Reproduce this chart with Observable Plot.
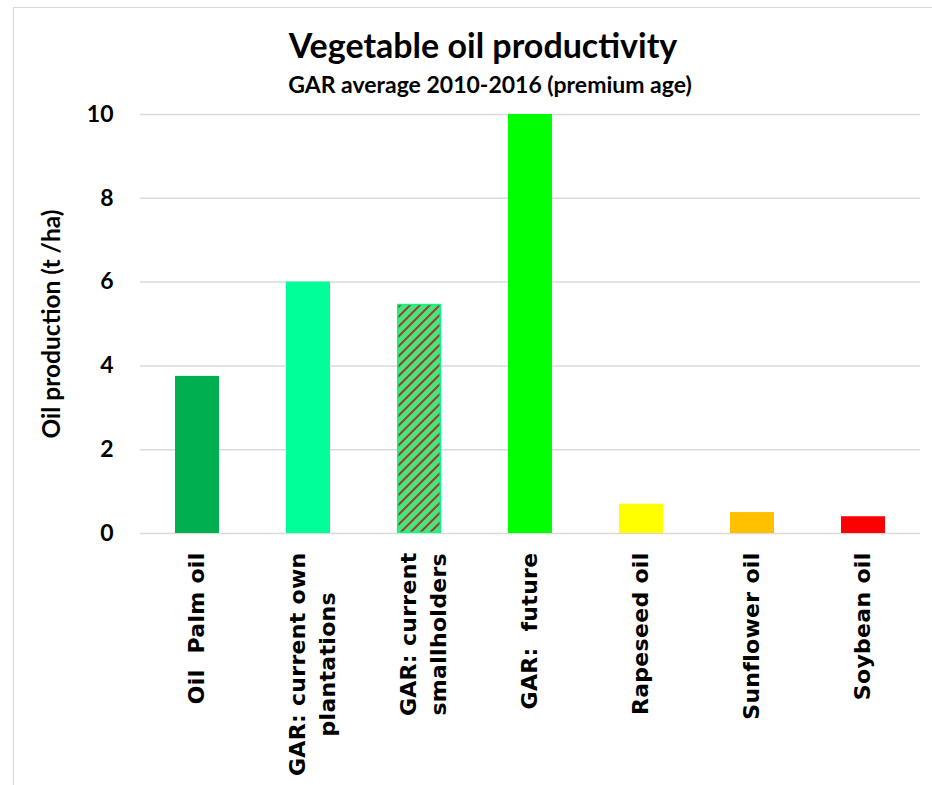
<!DOCTYPE html>
<html>
<head>
<meta charset="utf-8">
<script src="https://cdn.jsdelivr.net/npm/d3@7"></script>
<script src="https://cdn.jsdelivr.net/npm/@observablehq/plot@0.6"></script>
<style>
  html, body { margin: 0; padding: 0; background: #fff; }
  #wrap { position: relative; width: 932px; height: 785px; overflow: hidden; background: #fff; }
  #frame { position: absolute; left: 13px; top: 7px; width: 2000px; height: 2000px;
           border-left: 1.5px solid #d9d9d9; border-top: 1.5px solid #d9d9d9; }
  #title { position: absolute; left: 0; width: 966px; top: 25px; text-align: center;
           font: bold 34px Lato, sans-serif; line-height: 40px; color: #000; }
  #subtitle { position: absolute; left: 0; width: 980px; top: 71px; text-align: center;
           font: bold 23px Lato, sans-serif; line-height: 26px; color: #000; }
  #chart { position: absolute; left: 0; top: 100px; }
  g[aria-label="x-axis tick label"] { font-family: "DejaVu Sans", sans-serif; font-weight: bold; font-size: 22px; letter-spacing: 0.3px; fill: #000; }
  g[aria-label="y-axis tick label"] { font-family: Lato, sans-serif; font-weight: bold; font-size: 23px; fill: #000; }
  g[aria-label="y-axis label"] { font-family: Lato, sans-serif; font-weight: bold; font-size: 24.5px; fill: #000; }
</style>
</head>
<body>
<svg width="0" height="0" style="position:absolute">
  <defs>
    <pattern id="hatch" patternUnits="userSpaceOnUse" width="7" height="7" patternTransform="rotate(45)">
      <rect width="7" height="7" fill="#48E382"></rect>
      <rect width="2" height="7" fill="#A03C1C"></rect>
    </pattern>
  </defs>
</svg>
<div id="wrap">
  <div id="frame"></div>
  <div id="title">Vegetable oil productivity</div>
  <div id="subtitle">GAR average 2010-2016 (premium age)</div>
  <div id="chart"></div>
</div>
<script>
const categories = [
  "Oil  Palm oil",
  "GAR: current own\nplantations",
  "GAR: current\nsmallholders",
  "GAR:  future",
  "Rapeseed oil",
  "Sunflower oil",
  "Soybean oil"
];
const values = [3.75, 6.0, 5.47, 10.0, 0.7, 0.5, 0.4];
const colors = ["#00B050", "#00FF99", "url(#hatch)", "#00FF00", "#FFFF00", "#FFC000", "#FF0000"];
const yTicks = [0, 2, 4, 6, 8, 10];
const yLabel = "Oil production (t /ha)";

const data = categories.map((c, i) => ({category: c, value: values[i], color: colors[i]}));
const isHatch = d => d.color.startsWith("url(");

const chart = Plot.plot({
  width: 932,
  height: 685,
  marginTop: 14,
  marginBottom: 252,
  marginLeft: 140,
  marginRight: 12,
  style: {background: "transparent", overflow: "visible"},
  x: {domain: categories, paddingInner: 0.6, paddingOuter: 0.3, label: null},
  y: {domain: [0, 10], label: null},
  color: {type: "identity"},
  marks: [
    Plot.gridY(yTicks, {stroke: "#d9d9d9", strokeOpacity: 1, strokeWidth: 1.5}),
    Plot.barY(data.filter(d => !isHatch(d)), {x: "category", y: "value", fill: "color"}),
    Plot.barY(data.filter(isHatch), {x: "category", y: "value", fill: "color", stroke: "#00FF80", strokeWidth: 1.5, inset: 0.75}),
    Plot.axisX({tickSize: 0, tickPadding: 19, rotate: -90, textAnchor: "end", lineAnchor: "middle", label: null, lineHeight: 1.36, dx: -3}),
    Plot.axisY(yTicks, {tickSize: 0, tickPadding: 27, label: yLabel, labelAnchor: "center", labelOffset: 98, labelArrow: "none"})
  ]
});
document.getElementById("chart").appendChild(chart);

// center the lines of multi-line category labels within their block (as in the reference)
d3.select(chart).selectAll('g[aria-label="x-axis tick label"] text').each(function() {
  const tspans = Array.from(this.querySelectorAll("tspan"));
  if (tspans.length < 2) return;
  const maxLen = d3.max(tspans, t => t.getComputedTextLength());
  this.setAttribute("text-anchor", "middle");
  const tr = this.getAttribute("transform") || "";
  this.setAttribute("transform", tr + " translate(0,5)");
  tspans.forEach(t => t.setAttribute("x", -maxLen / 2));
});
</script>
</body>
</html>
